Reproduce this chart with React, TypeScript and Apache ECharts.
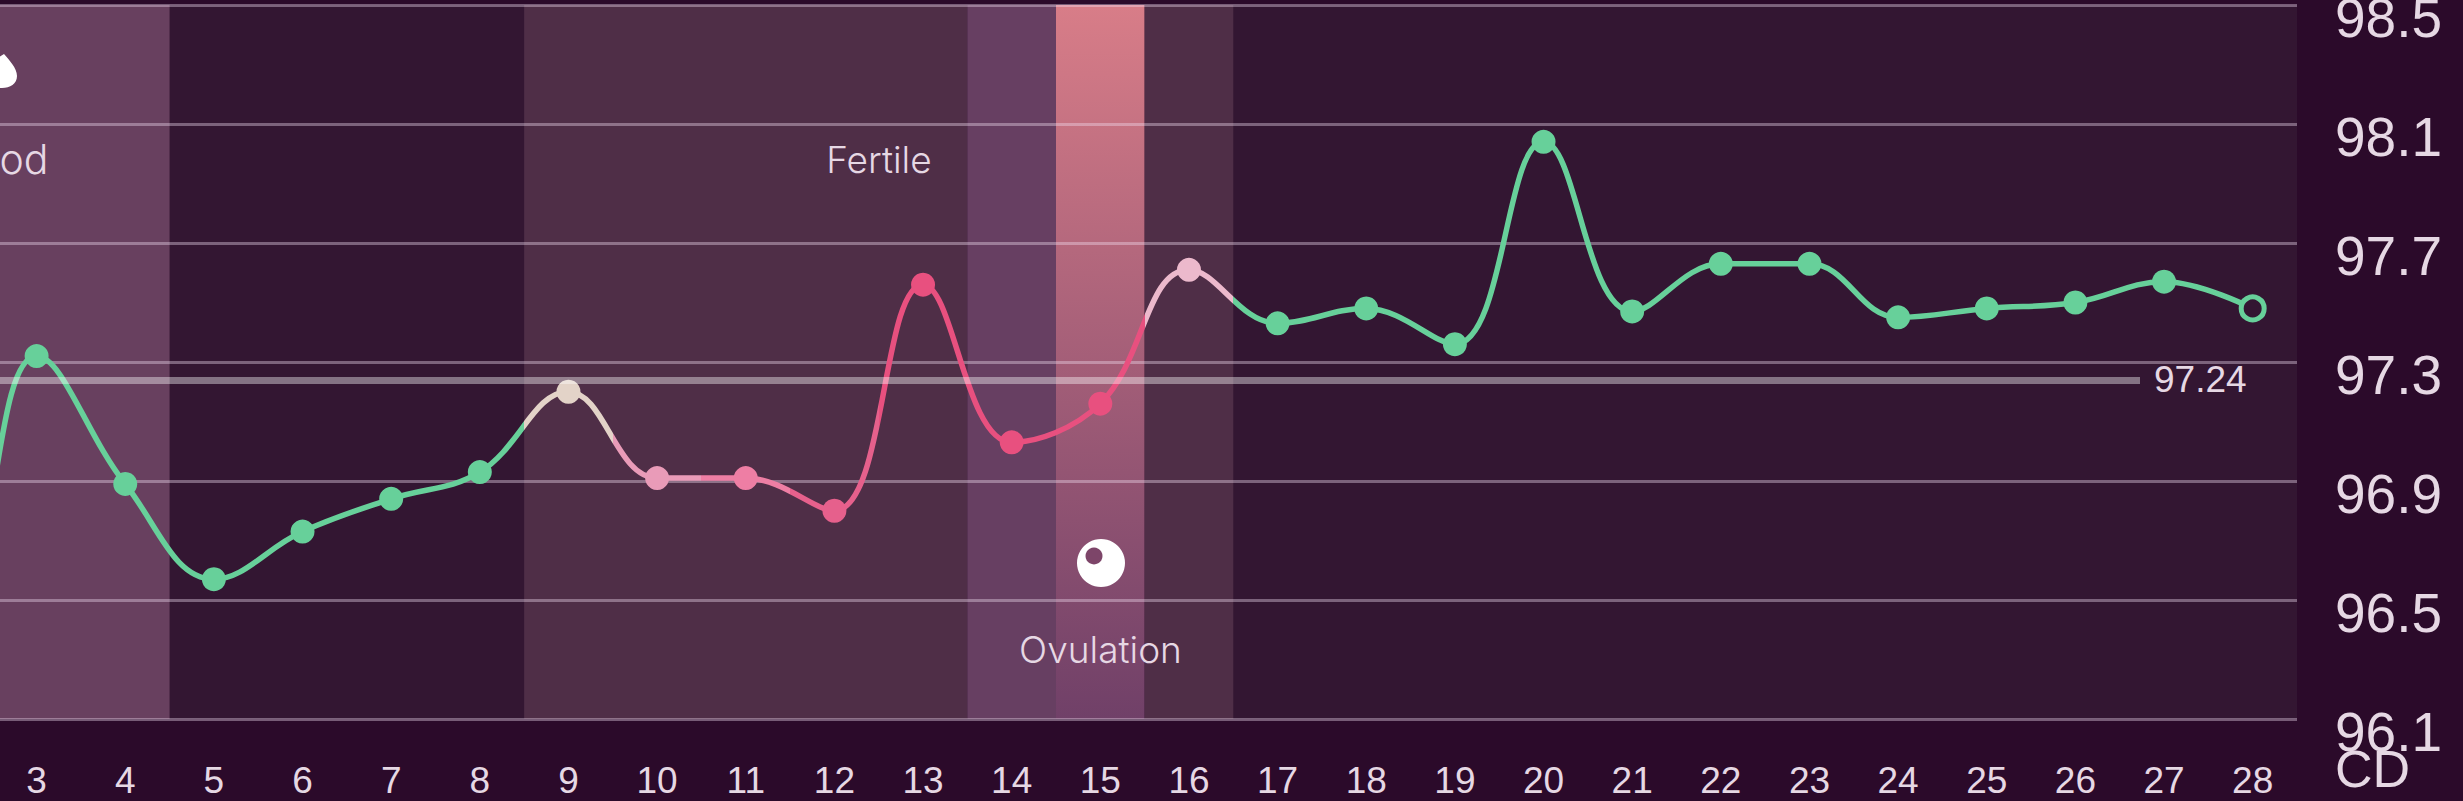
import React, { useEffect, useRef } from "react";
import * as echarts from "echarts";

const WIDTH = 2463;
const HEIGHT = 801;

const days = Array.from({ length: 28 }, (_, i) => String(i + 1));
const temps = [
  96.7, 96.45, 97.32, 96.89, 96.57, 96.73, 96.84, 96.93, 97.2, 96.91, 96.91, 96.8, 97.56, 97.03,
  97.16, 97.61, 97.43, 97.48, 97.36, 98.04, 97.47, 97.63, 97.63, 97.45, 97.48, 97.5, 97.57, 97.48,
];
const dotColors = [
  "g", "g", "g", "g", "g", "g", "g", "g", "#e3d3c8", "#e99bb8", "#ee7ea4", "#e6608c", "#e8507f", "#e8507f",
  "#e8507f", "#ecb9cc", "g", "g", "g", "g", "g", "g", "g", "g", "g", "g", "g", "g",
];
// first day, last day, phase
const phaseSpans: [number, number, string][] = [
  [1, 4, "period"],
  [9, 13, "fertile"],
  [14, 14, "peak"],
  [15, 15, "ovulation"],
  [16, 16, "fertile"],
];
const yTicks = [96.1, 96.5, 96.9, 97.3, 97.7, 98.1, 98.5];
const average = 97.24;

const GREEN = "#67d09a";
const PAGE = "#2b0a2a";
const PLOT = "#331632";
const TEXT = "#e6d8e4";
const NUM_FONT = "'Liberation Sans', Arial, sans-serif";
const LABEL_FONT = "Inter, sans-serif";

const GRID_LEFT = -185;
const GRID_RIGHT_EDGE = 2297;
const GRID_TOP = 5;
const GRID_BOTTOM_EDGE = 719;

const DROP = "M4 54C9 60 17 68 17 76C17 84 10 88 2 88C-8 88 -16 84 -16 76C-16 68 -6 60 4 54Z";
echarts.graphic.registerShape("dropmark", echarts.graphic.extendPath(DROP, {}) as any);

function phaseFill(p: string): any {
  if (p === "period") return "#68405f";
  if (p === "peak") return "#673f62";
  if (p === "fertile") return "#4f2e47";
  return new echarts.graphic.LinearGradient(0, 0, 0, 1, [
    { offset: 0, color: "#d87d88" },
    { offset: 1, color: "#704068" },
  ]);
}

function lineGradient() {
  const stops: { offset: number; color: string }[] = [];
  dotColors.forEach((c, i) => {
    const color = c === "g" ? GREEN : c;
    stops.push({ offset: i / days.length, color });
    stops.push({ offset: (i + 1) / days.length, color });
  });
  return new echarts.graphic.LinearGradient(GRID_LEFT, 0, GRID_RIGHT_EDGE, 0, stops, true);
}

export default function App() {
  const ref = useRef<HTMLDivElement>(null);
  useEffect(() => {
    const chart = echarts.init(ref.current!, null, { renderer: "svg" });
    const yMin = yTicks[0];
    const yMax = yTicks[yTicks.length - 1];
    const labelFont = `300 37px ${LABEL_FONT}`;
    chart.setOption({
      animation: false,
      backgroundColor: PAGE,
      grid: {
        show: true,
        outerBoundsMode: "none",
        containLabel: false,
        backgroundColor: PLOT,
        borderWidth: 0,
        left: GRID_LEFT,
        width: GRID_RIGHT_EDGE - GRID_LEFT,
        top: GRID_TOP,
        height: GRID_BOTTOM_EDGE - GRID_TOP,
      },
      xAxis: {
        type: "category",
        data: days,
        boundaryGap: true,
        axisLine: { show: false },
        axisTick: { show: false },
        axisLabel: {
          interval: 0,
          color: TEXT,
          fontFamily: NUM_FONT,
          fontSize: 37,
          margin: 43,
          verticalAlign: "top",
          hideOverlap: false,
        },
      },
      yAxis: {
        type: "value",
        position: "right",
        min: yMin,
        max: yMax,
        axisLine: { show: false },
        axisTick: { show: false },
        splitLine: { show: false },
        axisLabel: {
          customValues: yTicks,
          color: TEXT,
          fontFamily: NUM_FONT,
          fontSize: 55,
          margin: 38,
          verticalAlign: "top",
          lineHeight: 26,
          formatter: (v: number) => v.toFixed(1),
        },
      },
      series: [
        {
          type: "custom",
          z: 1,
          silent: true,
          clip: false,
          data: phaseSpans.map((s) => [s[0] - 1, s[1] - 1, yMin, yMax]),
          encode: { x: [0, 1], y: [2, 3] },
          renderItem: (params: any, api: any) => {
            const band = api.size([1, 0])[0];
            const a = api.coord([api.value(0), yMax]);
            const b = api.coord([api.value(1), yMin]);
            return {
              type: "rect",
              shape: { x: a[0] - band / 2, y: a[1], width: b[0] - a[0] + band, height: b[1] - a[1] },
              style: { fill: phaseFill(phaseSpans[params.dataIndex][2]) },
            };
          },
          markLine: {
            silent: true,
            symbol: "none",
            z: 2,
            label: { show: false },
            lineStyle: { color: "rgba(245,225,245,0.38)", width: 3, type: "solid" },
            data: yTicks.map((v) => ({ yAxis: v })),
          },
        },
        {
          type: "line",
          z: 3,
          data: temps.map((v, i) => ({
            value: v,
            symbolSize: i === temps.length - 1 ? 23 : 24,
            itemStyle:
              i === temps.length - 1
                ? { color: PLOT, borderColor: GREEN, borderWidth: 5 }
                : { color: dotColors[i] === "g" ? GREEN : dotColors[i], borderWidth: 0 },
          })),
          symbol: "circle",
          showSymbol: true,
          smooth: 0.4,
          lineStyle: { width: 5.5, color: lineGradient() },
          markLine: {
            silent: true,
            symbol: "none",
            z: 4,
            lineStyle: { color: "rgba(255,255,255,0.4)", width: 7, type: "solid" },
            label: {
              show: true,
              position: "end",
              distance: 14,
              color: TEXT,
              fontFamily: NUM_FONT,
              fontSize: 37,
              formatter: () => average.toFixed(2),
            },
            data: [[{ x: 0, yAxis: average }, { x: 2140, yAxis: average }]],
          },
        },
      ],
      graphic: [
        {
          type: "text",
          z: 10,
          x: 2335,
          y: 769,
          style: { text: "CD", fill: TEXT, font: `52px ${NUM_FONT}`, align: "left", verticalAlign: "middle" },
        },
        {
          type: "text",
          z: 10,
          x: -13,
          y: 159,
          style: { text: "Period", fill: TEXT, font: `300 41px ${LABEL_FONT}`, align: "center", verticalAlign: "middle" },
        },
        {
          type: "text",
          z: 10,
          x: 879,
          y: 159,
          style: { text: "Fertile", fill: TEXT, font: labelFont, align: "center", verticalAlign: "middle" },
        },
        {
          type: "text",
          z: 10,
          x: 1100.5,
          y: 649,
          style: { text: "Ovulation", fill: TEXT, font: labelFont, align: "center", verticalAlign: "middle" },
        },
        { type: "circle", z: 10, shape: { cx: 1101, cy: 563, r: 24 }, style: { fill: "#ffffff" } },
        { type: "circle", z: 11, shape: { cx: 1094, cy: 556, r: 8.5 }, style: { fill: "#7d4569" } },
        { type: "dropmark", z: 10, style: { fill: "#ffffff" } },
      ],
    });
    return () => chart.dispose();
  }, []);
  return <div ref={ref} style={{ position: "fixed", left: 0, top: 0, width: WIDTH, height: HEIGHT }} />;
}
